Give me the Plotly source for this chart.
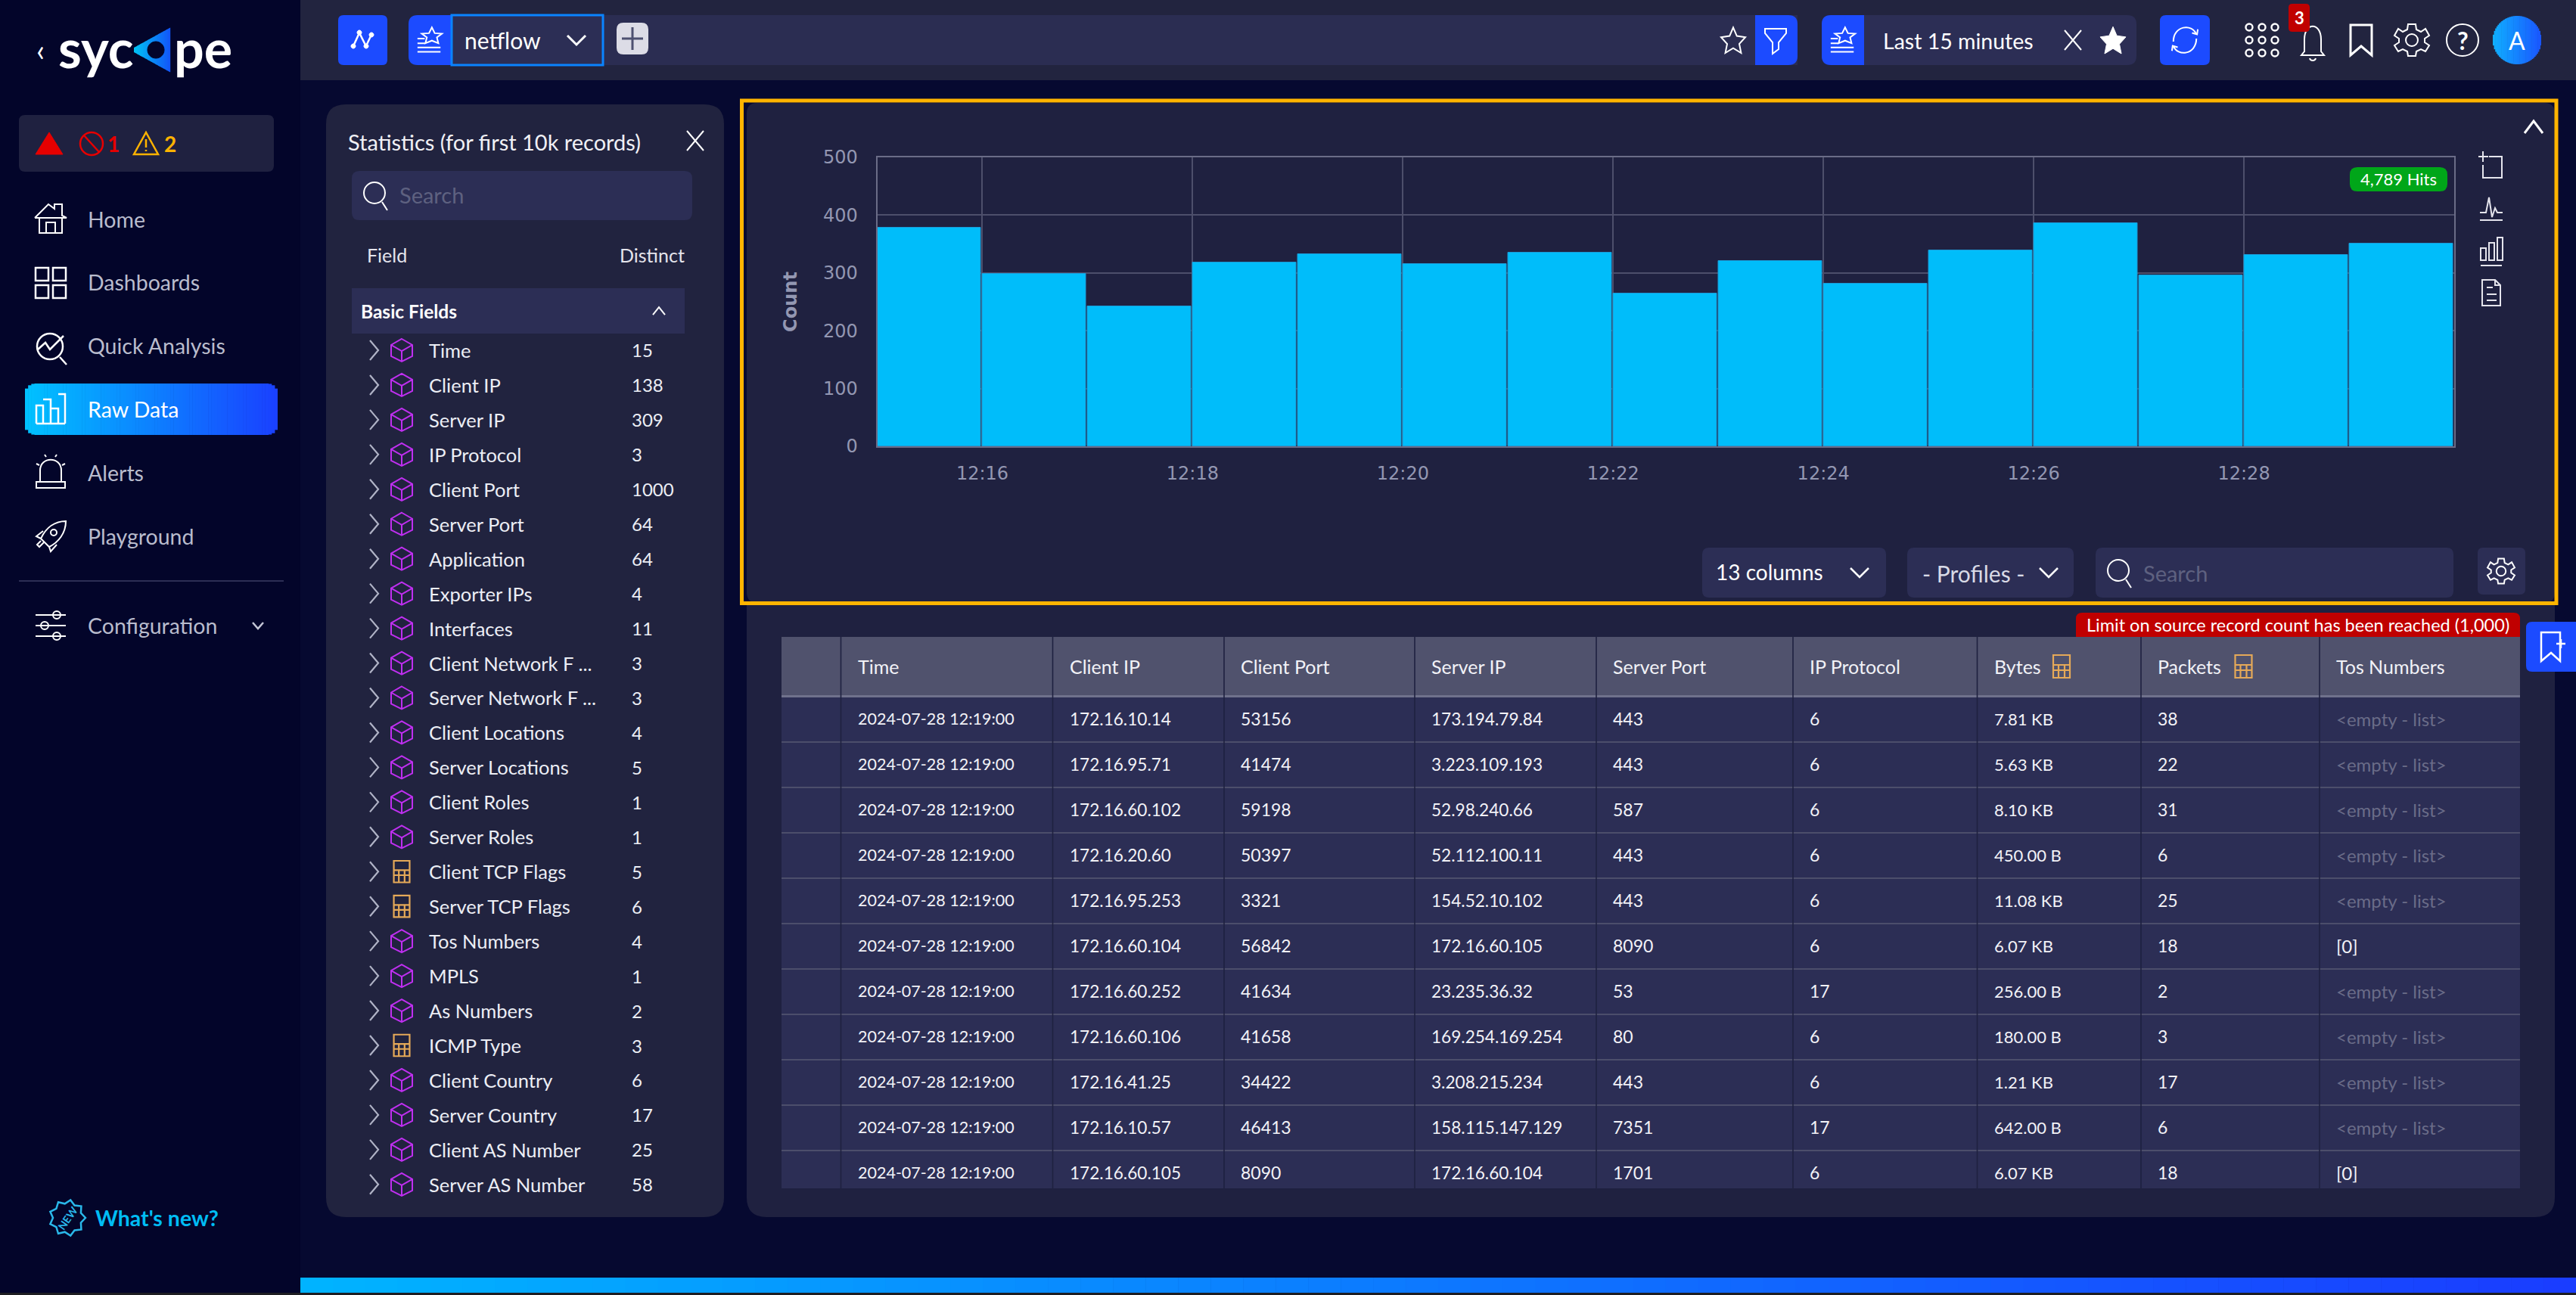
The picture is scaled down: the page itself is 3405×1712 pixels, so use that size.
import re, math
import plotly.graph_objects as go

W, H = 3405, 1712
FONT = "Lato"

# ---------- data ----------
bar_minutes = ["2024-07-28 12:%02d:00" % m for m in range(15, 30)]
bar_counts = [378, 298, 242, 318, 332, 316, 335, 265, 321, 281, 339, 386, 296, 331, 351]
hits_label = "4,789 Hits"
x_ticks = ["2024-07-28 12:16:00", "2024-07-28 12:18:00", "2024-07-28 12:20:00", "2024-07-28 12:22:00",
           "2024-07-28 12:24:00", "2024-07-28 12:26:00", "2024-07-28 12:28:00"]

nav_labels = ["Home", "Dashboards", "Quick Analysis", "Raw Data", "Alerts", "Playground", "Configuration"]
field_names = ["Time", "Client IP", "Server IP", "IP Protocol", "Client Port", "Server Port", "Application",
               "Exporter IPs", "Interfaces", "Client Network F ...", "Server Network F ...", "Client Locations",
               "Server Locations", "Client Roles", "Server Roles", "Client TCP Flags", "Server TCP Flags",
               "Tos Numbers", "MPLS", "As Numbers", "ICMP Type", "Client Country", "Server Country",
               "Client AS Number", "Server AS Number"]
field_distinct = ["15", "138", "309", "3", "1000", "64", "64", "4", "11", "3", "3", "4", "5", "1", "1", "5", "6",
                  "4", "1", "2", "3", "6", "17", "25", "58"]
calc_fields = ["Client TCP Flags", "Server TCP Flags", "ICMP Type"]

table_headers = ["Time", "Client IP", "Client Port", "Server IP", "Server Port", "IP Protocol", "Bytes", "Packets", "Tos Numbers"]
col_time = ["2024-07-28 12:19:00"] * 11
col_client_ip = ["172.16.10.14", "172.16.95.71", "172.16.60.102", "172.16.20.60", "172.16.95.253", "172.16.60.104",
                 "172.16.60.252", "172.16.60.106", "172.16.41.25", "172.16.10.57", "172.16.60.105"]
col_client_port = ["53156", "41474", "59198", "50397", "3321", "56842", "41634", "41658", "34422", "46413", "8090"]
col_server_ip = ["173.194.79.84", "3.223.109.193", "52.98.240.66", "52.112.100.11", "154.52.10.102", "172.16.60.105",
                 "23.235.36.32", "169.254.169.254", "3.208.215.234", "158.115.147.129", "172.16.60.104"]
col_server_port = ["443", "443", "587", "443", "443", "8090", "53", "80", "443", "7351", "1701"]
col_protocol = ["6", "6", "6", "6", "6", "6", "17", "6", "6", "17", "6"]
col_bytes = ["7.81 KB", "5.63 KB", "8.10 KB", "450.00 B", "11.08 KB", "6.07 KB", "256.00 B", "180.00 B", "1.21 KB", "642.00 B", "6.07 KB"]
col_packets = ["38", "22", "31", "6", "25", "18", "2", "3", "17", "6", "18"]
EMPTY = "&lt;empty - list&gt;"
col_tos = [EMPTY, EMPTY, EMPTY, EMPTY, EMPTY, "[0]", EMPTY, EMPTY, EMPTY, EMPTY, "[0]"]
table_columns = [col_time, col_client_ip, col_client_port, col_server_ip, col_server_port, col_protocol, col_bytes, col_packets, col_tos]
table_sizes = [21.5, 22.6, 23, 22.6, 23, 23, 22, 23, 24]

# ---------- helpers ----------
shapes, notes = [], []
PAIR = re.compile(r"(-?\d+\.?\d*),(-?\d+\.?\d*)")

def to_paper(path):
    return PAIR.sub(lambda m: f"{float(m.group(1))/W:.6f},{1-float(m.group(2))/H:.6f}", path)

def add_path(path, fill=None, line=None, lw=0):
    s = dict(type="path", path=to_paper(path), xref="paper", yref="paper", layer="below",
             line=dict(width=lw, color=line or "rgba(0,0,0,0)"))
    if fill:
        s["fillcolor"] = fill
    shapes.append(s)

def box(x0, y0, x1, y1, fill=None, r=0, line=None, lw=0, corners="tltrbrbl"):
    rtl = r if "tl" in corners else 0
    rtr = r if "tr" in corners else 0
    rbr = r if "br" in corners else 0
    rbl = r if "bl" in corners else 0
    p = (f"M{x0+rtl},{y0} L{x1-rtr},{y0} Q{x1},{y0} {x1},{y0+rtr} L{x1},{y1-rbr} Q{x1},{y1} {x1-rbr},{y1} "
         f"L{x0+rbl},{y1} Q{x0},{y1} {x0},{y1-rbl} L{x0},{y0+rtl} Q{x0},{y0} {x0+rtl},{y0} Z")
    add_path(p, fill, line, lw)

def circ(r, cx=0, cy=0):
    k = 0.5523 * r
    return (f"M{cx-r},{cy} C{cx-r},{cy-k} {cx-k},{cy-r} {cx},{cy-r} C{cx+k},{cy-r} {cx+r},{cy-k} {cx+r},{cy} "
            f"C{cx+r},{cy+k} {cx+k},{cy+r} {cx},{cy+r} C{cx-k},{cy+r} {cx-r},{cy+k} {cx-r},{cy} Z ")

def icon(cx, cy, path, color="#ffffff", lw=2, s=1.0, fill=None, sy=None):
    sy = s if sy is None else sy
    p = PAIR.sub(lambda m: f"{cx+s*float(m.group(1)):.2f},{cy+sy*float(m.group(2)):.2f}", path)
    add_path(p, fill, color, lw)

def mix(c0, c1, t):
    a = [int(c0[i:i+2], 16) for i in (1, 3, 5)]
    b = [int(c1[i:i+2], 16) for i in (1, 3, 5)]
    return "#%02x%02x%02x" % tuple(round(a[i] + (b[i]-a[i])*t) for i in range(3))

def gradient(x0, y0, x1, y1, c0, c1, r=0, n=60):
    step = (x1-x0)/n
    for i in range(n):
        a, b = x0+i*step, x0+(i+1)*step
        m = (a+b)/2
        inset = 0
        d = min(m-x0, x1-m)
        if r and d < r:
            inset = r - math.sqrt(max(r*r-(r-d)**2, 0))
        add_path(f"M{a:.2f},{y0+inset:.2f} L{min(b+0.6,x1):.2f},{y0+inset:.2f} L{min(b+0.6,x1):.2f},{y1-inset:.2f} L{a:.2f},{y1-inset:.2f} Z",
                 mix(c0, c1, (i+.5)/n))

def text(x, y, s, size=26, color="#ffffff", anchor="left", font=FONT, angle=0, bold=False):
    notes.append(dict(x=x/W, y=1-y/H, xref="paper", yref="paper", text=f"<b>{s}</b>" if bold else s,
                      showarrow=False, xanchor=anchor, yanchor="middle", textangle=angle,
                      font=dict(family=font, size=size, color=color), borderpad=0, borderwidth=0))

CHEV_D = "M-12,-6 L0,6 L12,-6"
CHEV_R = "M-5,-13 L6,0 L-5,13"
X_MARK = "M-11,-13 L11,13 M11,-13 L-11,13"
STAR = "M0,-22 L6,-8 L20,-6 L10,5 L13,20 L0,12 L-13,20 L-10,5 L-20,-6 L-6,-8 Z"
MAG = circ(14, -2, -3) + "M8,9 L15,20"
CUBE = "M0,-15 L14,-7 L14,8 L0,15 L-14,8 L-14,-7 Z M-14,-7 L0,1 L14,-7 M0,1 L0,15"
CALC = "M-11,-15 L11,-15 L11,15 L-11,15 Z M-11,-2 L11,-2 M-11,5 L11,5 M-4,-2 L-4,15 M4,-2 L4,15"
GEAR = ("M-5,-21 L5,-21 L6,-14 L12,-11 L18,-15 L23,-6 L17,-2 L17,3 L23,7 L18,15 L12,12 L6,15 L5,21 L-5,21 L-6,15 "
        "L-12,12 L-18,15 L-23,7 L-17,3 L-17,-2 L-23,-6 L-18,-15 L-12,-11 L-6,-14 Z " + circ(8))
STARLIST = "M3,-24 L7,-13 L17,-12 L10,-5 L12,6 L3,1 L-6,6 L-4,-5 L-11,-12 L-1,-13 Z M-17,-3 L-7,-3 M-17,6 L-7,6 M-17,14 L15,14 M-17,22 L15,22"

# ---------- page background ----------
box(0, 0, W, H, "#03052a")
box(397, 0, W, H, "#060930")
box(0, H-3, W, H, "#1e1e22")
box(397, 0, W, 106, "#22243f")
gradient(397, 1689, W, 1709, "#00b4ff", "#1a3cff", n=70)

# ---------- top bar ----------
box(447, 20, 512, 86, "#1c4bff", r=7)
icon(479, 53, "M-15,10 L-5,-12 L6,10 L15,-9", "#ffffff", 2.5, s=0.8)
for dx, dy in [(-12, 8), (-4, -10), (5, 8), (12, -7)]:
    icon(479+dx, 53+dy, circ(3), "#ffffff", 1, fill="#ffffff")
box(540, 20, 600, 86, "#1c4bff", r=12, corners="tlbl")
icon(568, 53, STARLIST, "#ffffff", 2, s=0.95, sy=0.7)
box(797, 20, 2376, 86, "#2b2d52")
box(597, 20, 797, 86, "#2c2e55", line="#0a84ff", lw=3)
text(614, 53, "netflow", 30)
icon(762, 53, CHEV_D, "#ffffff", 3)
box(815, 30, 857, 72, "#dcdce6", r=9)
icon(836, 51, "M-14,0 L14,0 M0,-15 L0,15", "#4d5070", 3)
icon(2291, 54, STAR, "#ffffff", 2, s=0.8)
box(2320, 20, 2376, 86, "#1c4bff", r=12, corners="trbr")
icon(2347, 53, "M-14,-15 L14,-15 L14,-9 L4,3 L4,12 L-4,18 L-4,3 L-14,-9 Z", "#ffffff", 2)
box(2408, 20, 2824, 86, "#2c2e55", r=12)
box(2408, 20, 2464, 86, "#1c4bff", r=12, corners="tlbl")
icon(2436, 53, STARLIST, "#ffffff", 2, s=0.95, sy=0.7)
text(2489, 54, "Last 15 minutes", 28.5)
icon(2740, 53, X_MARK, "#ffffff", 2)
icon(2793, 54, STAR, "#ffffff", 1, fill="#ffffff", s=0.85)
box(2855, 20, 2921, 86, "#1c4bff", r=8)
icon(2888, 53, "M-16,2 C-16,-20 10,-24 16,-8 M16,-2 C16,20 -10,24 -16,8 M10,-10 L17,-8 L18,-15 M-10,10 L-17,8 L-18,15", "#ffffff", 2, s=0.95)
for ix in (-17, 0, 17):
    for iy in (-17, 0, 17):
        icon(2990+ix, 53+iy, circ(4.5), "#ffffff", 2.4)
icon(3057, 55, "M-11,13 L-11,-3 C-11,-26 11,-26 11,-3 L11,13 L15,18 L-15,18 Z M-4,22 C-3,26 3,26 4,22", "#ffffff", 2)
box(3025, 5, 3053, 42, "#c00000", r=5)
text(3039, 24, "3", 22, "#ffffff", "center", bold=True)
icon(3121, 53, "M-14,-20 L14,-20 L14,20 L0,8 L-14,20 Z", "#ffffff", 3)
icon(3188, 53, GEAR, "#ffffff", 2)
icon(3255, 53, circ(21), "#ffffff", 2)
text(3255, 53, "?", 32, "#ffffff", "center", bold=True)
gradient(3295, 21, 3359, 85, "#10b0ff", "#1a55ff", r=32, n=40)
text(3327, 53, "A", 32, "#ffffff", "center")

# ---------- sidebar ----------
text(53, 66, "‹", 40, "#ffffff", "center")
text(77, 63, "syc", 70, "#ffffff", bold=True)
text(307, 63, "pe", 70, "#ffffff", "right", bold=True)
LOGO_N = 24
for i in range(LOGO_N):
    xa = 177 + 48 * i / LOGO_N
    xb = 177 + 48 * (i + 1.1) / LOGO_N
    ha, hb = 26.5 * (xa-177)/48 + 3, 26.5 * (xb-177)/48 + 3
    add_path(f"M{xa:.2f},{66-ha:.2f} L{xb:.2f},{66-hb:.2f} L{xb:.2f},{66+hb:.2f} L{xa:.2f},{66+ha:.2f} Z",
             mix("#00c4f5", "#1255f8", (i+.5)/LOGO_N))
icon(0, 0, circ(11, 206, 66), "#03052a", 1, fill="#03052a")

box(25, 152, 362, 227, "#1f2140", r=8)
icon(65, 190, "M0,-15 L18,14 L-18,14 Z", "#e60000", 1, fill="#e60000")
icon(121, 190, circ(15) + "M-10,-11 L10,11", "#e60000", 2.5)
text(150, 190, "1", 28, "#e60000", "center", bold=True)
icon(193, 190, "M0,-15 L16,14 L-16,14 Z M0,-6 L0,5 M0,8 L0,10", "#ffb300", 2.5)
text(225, 190, "2", 28, "#ffb300", "center", bold=True)

NAV_Y = [290, 373, 457, 541, 625, 709, 827]
NAV_C = "#b9bccd"
gradient(33, 507, 367, 575, "#00c2ff", "#1a40ff", r=14, n=80)
for lab, y in zip(nav_labels, NAV_Y):
    text(116, y, lab, 28.5, "#ffffff" if lab == "Raw Data" else NAV_C)
icon(67, 290, "M-21,-2 L-3,-20 L5,-14 L5,-20 L15,-20 L15,-5 L21,-2 L-21,-2 M-15,-2 L-15,18 L15,18 L15,-2 M-6,18 L-6,4 L6,4 L6,18", "#ffffff", 2)
icon(67, 374, "M-20,-20 L-3,-20 L-3,-3 L-20,-3 Z M3,-20 L20,-20 L20,-3 L3,-3 Z M-20,3 L-3,3 L-3,20 L-20,20 Z M3,3 L20,3 L20,20 L3,20 Z", "#ffffff", 2.5)
icon(66, 458, circ(17) + "M13,14 L22,24 M-16,4 L-6,-5 L0,4 L18,-14", "#ffffff", 2.5)
icon(67, 541, "M-19,19 L19,19 M-19,19 L-19,-5 L-10,-5 L-10,19 M-10,-13 L0,-13 L0,19 M0,-1 L10,-1 L10,19 M10,-20 L19,-20 L19,19", "#ffffff", 2.5)
icon(67, 625, "M-19,12 L19,12 L19,20 L-19,20 Z M-14,12 L-14,-3 C-14,-22 14,-22 14,-3 L14,12 M-8,-24 L-6,-21 M8,-24 L6,-21 M-19,-12 L-15,-10 M19,-12 L15,-10", "#ffffff", 2)
icon(67, 709, "M20,-20 C20,-4 10,8 -2,14 L-13,3 C-6,-12 6,-20 20,-20 Z M-13,3 L-19,0 L-10,-7 M-2,14 L0,20 L8,11 M-9,8 L-15,14 L-18,11 L-13,6" + " " + circ(4, 4, -5), "#ffffff", 2)
box(25, 767, 375, 769, "#2c2e55")
icon(67, 827, "M-20,-14 L20,-14 M-20,0 L20,0 M-20,14 L20,14 " + circ(5, 8, -14) + circ(5, -8, 0) + circ(5, 8, 14), "#ffffff", 2, fill="#03052a")
icon(341, 827, "M-7,-4 L0,4 L7,-4", "#c4c6d6", 2.5)

icon(89, 1610, "".join(
    ("M" if i == 0 else "L") + f"{(24 if i % 2 == 0 else 19)*math.cos(i*math.pi/9):.1f},{(24 if i % 2 == 0 else 19)*math.sin(i*math.pi/9):.1f} "
    for i in range(18)) + "Z", "#2ab8ea", 2.5)
text(89, 1610, "NEW", 14, "#2ab8ea", "center", angle=-55, bold=True)
text(126, 1610, "What's new?", 28.5, "#00bdf5", bold=True)

# ---------- statistics panel ----------
box(431, 138, 957, 1609, "#21233f", r=26)
text(460, 188, "Statistics (for first 10k records)", 29, "#f0f0f5")
icon(919, 186, X_MARK, "#ffffff", 2)
box(465, 226, 915, 291, "#2c2e55", r=10)
icon(497, 258, MAG, "#ffffff", 2)
text(528, 258, "Search", 29, "#5e6180")
text(485, 337, "Field", 25, "#e4e4ec")
text(905, 337, "Distinct", 25, "#e4e4ec", "right")
box(465, 381, 905, 441, "#2c2e55")
text(477, 411, "Basic Fields", 24.5, "#ffffff", bold=True)
icon(871, 411, "M-8,5 L0,-5 L8,5", "#ffffff", 2)
for i, (nm, dv) in enumerate(zip(field_names, field_distinct)):
    y = 463 + i * 45.95
    icon(494, y, CHEV_R, "#b0b3c6", 2.2)
    if nm in calc_fields:
        icon(531, y, CALC, "#e5a958", 2.2, s=0.95)
    else:
        icon(531, y, CUBE, "#bf2ff0", 2)
    text(567, y, nm, 25.5, "#eceef5")
    text(835, y, dv, 24, "#eceef5")

# ---------- chart panel ----------
box(987, 136, 3377, 797, "#1f2140", r=14)
box(987, 800, 3377, 1609, "#1f2140", r=26, corners="brbl")
box(980.5, 133, 3379, 797.5, None, line="#ffb400", lw=5)
icon(3349, 168, "M-12,8 L0,-8 L12,8", "#ffffff", 3)
icon(3293, 224, "M-11,-24 L-11,-10 M-17,-17 L-4,-17 M-3,-17 L14,-17 L14,11 L-11,11 L-11,-6", "#e4e4ec", 2)
icon(3293, 275, "M-15,16 L15,16 M-15,6 L-7,6 L-3,-14 L1,12 L5,0 L8,6 L15,6", "#e4e4ec", 2)
icon(3293, 332, "M-14,19 L14,19 M-14,12 L-14,-4 L-7,-4 L-7,12 Z M-3,12 L-3,-11 L4,-11 L4,12 Z M8,12 L8,-18 L15,-18 L15,12 Z", "#e4e4ec", 2)
icon(3293, 387, "M-12,-17 L5,-17 L12,-10 L12,17 L-12,17 Z M5,-17 L5,-10 L12,-10 M-6,-7 L2,-7 M-6,2 L7,2 M-6,10 L7,10", "#e4e4ec", 2)
box(3106, 221, 3235, 253, "#00a619", r=10)
text(3170.5, 237, hits_label, 22, "#ffffff", "center")
CTRL = "#2c2e55"
box(2250, 724, 2493, 790, CTRL, r=9)
text(2268, 756, "13 columns", 28)
icon(2458, 757, CHEV_D, "#ffffff", 2.5)
box(2521, 724, 2741, 790, CTRL, r=9)
text(2541, 758, "- Profiles -", 30, "#d8dae6")
icon(2708, 757, CHEV_D, "#ffffff", 2.5)
box(2770, 724, 3243, 790, CTRL, r=9)
icon(2802, 757, MAG, "#ffffff", 2)
text(2833, 757, "Search", 29, "#5e6180")
box(3275, 724, 3338, 786, CTRL, r=7)
icon(3306, 755, GEAR, "#ffffff", 2, s=0.78)

# ---------- table ----------
TOP, HEAD_B, ROW_H = 842, 920, 60
COL_LINES = [1111.5, 1391.5, 1618, 1870, 2110, 2370, 2613.5, 2830, 3066]
TBL_L, TBL_R, TBL_B = 1033, 3331, 1571
box(2744, 810, 3331, 842, "#c00000", r=8, corners="tltr")
text(3037.5, 826, "Limit on source record count has been reached (1,000)", 23.5, "#ffffff", "center")
box(3339, 822, W, 888, "#1c4bff", r=8, corners="tlbl")
icon(3373, 855, "M-14,-19 L11,-19 L11,19 L-1,8 L-14,19 Z M6,-4 L18,-4 M12,-10 L12,2", "#ffffff", 2.5)
box(TBL_L, TOP, TBL_R, HEAD_B, "#50526d")
box(TBL_L, HEAD_B+2, TBL_R, TBL_B, "#2c2e55")
box(TBL_L, HEAD_B-1, TBL_R, HEAD_B+2, "#70728c")
for r in range(1, 11):
    yy = HEAD_B + 1 + r * ROW_H
    box(TBL_L, yy-1, TBL_R, yy+1, "#4c4e6b")
for x in COL_LINES:
    box(x-0.8, TOP, x+0.8, TBL_B, "#1f2140")
for j, hd in enumerate(table_headers):
    x = COL_LINES[j] + 22
    text(x, 880.5, hd, 25, "#f2f2f7")
    for r, val in enumerate(table_columns[j]):
        color = "#6a6c88" if val == EMPTY else "#f2f2f7"
        text(x, 950 + r * ROW_H, val, table_sizes[j], color)
icon(2725, 881, CALC, "#e5a958", 2.2)
icon(2965.5, 881, CALC, "#e5a958", 2.2)

# ---------- figure ----------
fig = go.Figure(go.Bar(
    x=bar_minutes, y=bar_counts, width=59200, offset=0,
    marker=dict(color="#00bdfa", line=dict(color="#1b9ad6", width=1)),
    hoverinfo="x+y", showlegend=False))

AX = "#6a6c87"
GR = "#4d4f6b"
TK = "#9397b2"
fig.update_layout(
    width=W, height=H, autosize=False,
    margin=dict(l=0, r=0, t=0, b=0, pad=0),
    paper_bgcolor="#03052a", plot_bgcolor="rgba(0,0,0,0)",
    showlegend=False, bargap=0,
    shapes=shapes, annotations=notes,
    xaxis=dict(domain=[1159.5/W, 3244/W], type="date", automargin=False,
               range=["2024-07-28 12:15:00", "2024-07-28 12:30:00"],
               tickmode="array", tickvals=x_ticks, tickformat="%H:%M",
               showgrid=True, gridcolor=GR, gridwidth=2, zeroline=False,
               showline=True, linecolor=AX, linewidth=2, mirror=True,
               ticks="outside", ticklen=13, tickcolor="rgba(0,0,0,0)",
               tickfont=dict(family="DejaVu Sans", size=24, color=TK)),
    yaxis=dict(domain=[1-590/H, 1-208/H], range=[0, 500], dtick=100, automargin=False,
               showgrid=True, gridcolor=GR, gridwidth=2, zeroline=False,
               showline=True, linecolor=AX, linewidth=2, mirror=True,
               ticks="outside", ticklen=19, tickcolor="rgba(0,0,0,0)",
               tickfont=dict(family="DejaVu Sans", size=24, color=TK),
               title=dict(text="<b>Count</b>", standoff=27,
                          font=dict(family="DejaVu Sans", size=24, color=TK))),
)

fig.write_html("out.html", config={"displayModeBar": False},
               post_script="document.body.style.margin='0';document.body.style.overflow='hidden';")
